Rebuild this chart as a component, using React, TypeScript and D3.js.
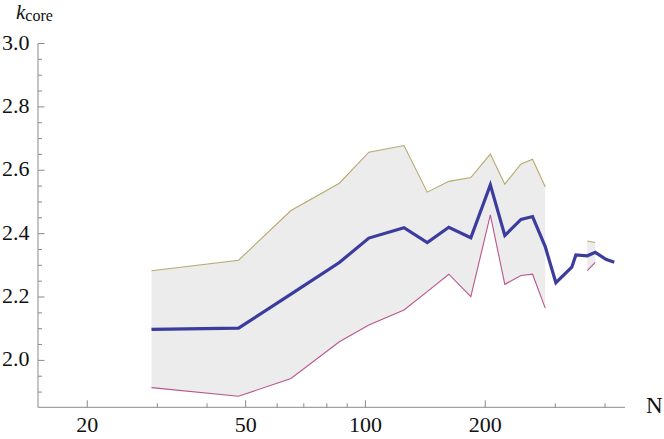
import React from 'react'
import * as d3 from 'd3'

// network size N and k_core statistics
const sizes = [29, 48, 65, 86, 102, 125, 143, 162, 184, 206, 224, 246, 263, 283, 301, 330, 338, 361, 378, 402, 422]
const meanK = [2.098, 2.102, 2.209, 2.309, 2.386, 2.419, 2.372, 2.420, 2.387, 2.554, 2.394, 2.445, 2.454, 2.359, 2.245, 2.294, 2.333, 2.330, 2.341, 2.319, 2.310]
const upperK = [2.283, 2.316, 2.473, 2.559, 2.657, 2.678, 2.531, 2.565, 2.577, 2.651, 2.556, 2.620, 2.635, 2.548, null, null, null, 2.377, 2.372, null, null]
const lowerK = [1.914, 1.887, 1.943, 2.059, 2.112, 2.159, 2.217, 2.272, 2.201, 2.459, 2.240, 2.268, 2.272, 2.165, null, null, null, 2.283, 2.309, null, null]

const xMajor = [20, 50, 100, 200]
const xMinor = [30, 40, 60, 70, 80, 90, 300, 400]
const yMajor = [2.0, 2.2, 2.4, 2.6, 2.8, 3.0]
const yMinor = [1.9, 1.95, 2.05, 2.1, 2.15, 2.25, 2.3, 2.35, 2.45, 2.5, 2.55, 2.65, 2.7, 2.75, 2.85, 2.9, 2.95]

const W = 664
const H = 439
const axisColor = '#8a8a8a'
const txt = {
    fontFamily: "'Liberation Serif', Tinos, 'Nimbus Roman', 'Noto Serif', FreeSerif, 'DejaVu Serif', Times, serif",
    fill: '#111'
}

export default function App() {
    const x = d3.scaleLog().domain([15.04, 449]).range([38, 625])
    const y = d3.scaleLinear().domain([1.852, 3.0]).range([407.3, 43.5])

    const rows = sizes.map((n, i) => ({ n, m: meanK[i], hi: upperK[i], lo: lowerK[i] }))

    const band = d3.area<any>()
        .defined(d => d.hi != null && d.lo != null)
        .x(d => x(d.n))
        .y0(d => y(d.lo))
        .y1(d => y(d.hi))
    const hiLine = d3.line<any>().defined(d => d.hi != null).x(d => x(d.n)).y(d => y(d.hi))
    const loLine = d3.line<any>().defined(d => d.lo != null).x(d => x(d.n)).y(d => y(d.lo))
    const meanLine = d3.line<any>().x(d => x(d.n)).y(d => y(d.m))

    const x0 = x.range()[0]
    const y0 = y.range()[0]

    return (
        <svg width={W} height={H} style={{ position: 'absolute', left: 0, top: 0, background: '#fff' }}>
            <path d={band(rows) || ''} fill="#ececec" stroke="none" />
            <path d={hiLine(rows) || ''} fill="none" stroke="#b8a86e" strokeWidth={1.1} />
            <path d={loLine(rows) || ''} fill="none" stroke="#b8558f" strokeWidth={1.1} />
            <path d={meanLine(rows) || ''} fill="none" stroke="#3c3c9e" strokeWidth={3.2} />

            {/* y axis */}
            <line x1={x0} x2={x0} y1={y(3.0)} y2={y0} stroke={axisColor} strokeWidth={1} />
            {yMajor.map(v => (
                <g key={'ym' + v}>
                    <line x1={x0} x2={x0 + 6.5} y1={y(v)} y2={y(v)} stroke={axisColor} />
                    <text x={x0 - 8.5} y={y(v) + 6} fontSize={22} textAnchor="end" style={txt}>{v.toFixed(1)}</text>
                </g>
            ))}
            {yMinor.map(v => (
                <line key={'yn' + v} x1={x0} x2={x0 + 4} y1={y(v)} y2={y(v)} stroke={axisColor} />
            ))}

            {/* x axis */}
            <line x1={x0} x2={x.range()[1]} y1={y0} y2={y0} stroke={axisColor} strokeWidth={1} />
            {xMajor.map(v => (
                <g key={'xm' + v}>
                    <line x1={x(v)} x2={x(v)} y1={y0} y2={y0 - 7} stroke={axisColor} />
                    <text x={x(v)} y={y0 + 25} fontSize={22} textAnchor="middle" style={txt}>{v}</text>
                </g>
            ))}
            {xMinor.map(v => (
                <line key={'xn' + v} x1={x(v)} x2={x(v)} y1={y0} y2={y0 - 4} stroke={axisColor} />
            ))}

            <text x={646} y={413} fontSize={23} style={txt}>N</text>
            <text x={16} y={18.5} fontSize={21} style={txt}>
                <tspan fontStyle="italic">k</tspan>
                <tspan fontSize={16} dy={2.5}>core</tspan>
            </text>
        </svg>
    )
}
